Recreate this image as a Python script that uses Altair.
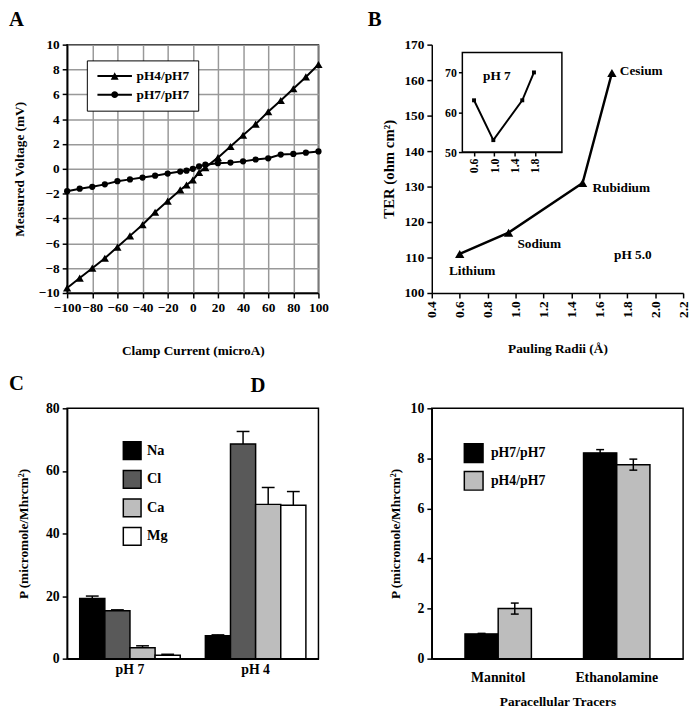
import math
import altair as alt
import pandas as pd

FONT = "Liberation Serif"
W, H = 255, 252
H2 = 254

# ---------------- Panel A data ----------------
a_current = [-100, -90, -80, -70, -60, -50, -40, -30, -20, -10, -5, 0, 5, 10,
             20, 30, 40, 50, 60, 70, 80, 90, 100]
a_ph4 = [-9.6, -8.8, -8.0, -7.2, -6.3, -5.4, -4.5, -3.5, -2.6, -1.7, -1.3, -0.9,
         -0.3, 0.1, 0.9, 1.8, 2.7, 3.6, 4.6, 5.5, 6.45, 7.4, 8.4]
a_ph7 = [-1.8, -1.6, -1.45, -1.25, -1.0, -0.85, -0.7, -0.55, -0.38, -0.22, -0.15,
         0.0, 0.2, 0.33, 0.45, 0.5, 0.6, 0.75, 0.85, 1.15, 1.2, 1.3, 1.4]
a_series = ["pH4/pH7", "pH7/pH7"]

# ---------------- Panel B data ----------------
b_ions = ["Lithium", "Sodium", "Rubidium", "Cesium"]
b_radius = [0.60, 0.95, 1.48, 1.69]
b_ter = [111, 117, 131, 162]
b_inset_radius = [0.60, 0.98, 1.55, 1.78]
b_inset_ter = [63, 53, 63, 70]
b_inset_xdom = [0.37, 2.33]
b_inset_ydom = [50, 75]

# ---------------- Panel C data ----------------
c_groups = ["pH 7", "pH 4"]
c_ions = ["Na", "Cl", "Ca", "Mg"]
c_ph7 = [19.2, 15.3, 3.5, 1.1]
c_ph7_err = [0.8, 0.3, 0.6, 0.3]
c_ph4 = [7.3, 68.6, 49.3, 49.0]
c_ph4_err = [0.3, 4.0, 5.4, 4.4]

# ---------------- Panel D data ----------------
d_tracers = ["Mannitol", "Ethanolamine"]
d_conditions = ["pH7/pH7", "pH4/pH7"]
d_ph7 = [0.99, 8.22]
d_ph7_err = [0.02, 0.13]
d_ph4 = [2.0, 7.75]
d_ph4_err = [0.22, 0.22]

LX = -59  # horizontal offset of the left panel letters
LY = -36  # vertical offset of the panel letters


def letter(ch, dx, dy):
    return alt.Chart(pd.DataFrame({"t": [ch]})).mark_text(
        font=FONT, fontWeight="bold", fontSize=21, align="left", baseline="top", color="black"
    ).encode(text="t:N", x=alt.value(dx), y=alt.value(dy))


# ================= Panel A =================
dfA = pd.DataFrame({
    "current": a_current * 2,
    "voltage": a_ph4 + a_ph7,
    "series": [a_series[0]] * len(a_current) + [a_series[1]] * len(a_current),
})
xA = alt.X("current:Q", scale=alt.Scale(domain=[-100, 100], nice=False),
           axis=alt.Axis(values=list(range(-100, 101, 20)), grid=True, gridColor="#999999",
                         gridWidth=1.5, title="Clamp Current (microA)", titlePadding=30,
                         labelFlush=False, labelOverlap=False, labelFontSize=13.5))
yA = alt.Y("voltage:Q", scale=alt.Scale(domain=[-10, 10], nice=False),
           axis=alt.Axis(values=list(range(-10, 11, 2)), grid=True, gridColor="#999999",
                         gridWidth=1.5, title="Measured Voltage (mV)", titlePadding=12,
                         labelOverlap=False, labelFlush=False, labelFontSize=13.5))
lineA = alt.Chart(dfA).mark_line(color="black", strokeWidth=2).encode(
    x=xA, y=yA, detail="series:N", order="current:Q")
pointsA = alt.Chart(dfA).mark_point(filled=True, color="black", opacity=1).encode(
    x=xA, y=yA,
    shape=alt.Shape("series:N", scale=alt.Scale(domain=a_series, range=["triangle-up", "circle"]), legend=None),
    size=alt.Size("series:N", scale=alt.Scale(domain=a_series, range=[70, 40]), legend=None),
)
# legend symbols: a short filled bar (the line) with a marker in its middle
bar_path = "M-1,-0.2H6V0.2H-1Z"
tri_path = bar_path + "M1.7,0.75L2.5,-0.75L3.3,0.75Z"
circ_pts = []
for k in range(16):
    ang = 2 * math.pi * k / 16
    circ_pts.append(f"{2.5 + 0.7 * math.cos(ang):.3f},{0.7 * math.sin(ang):.3f}")
circ_path = bar_path + "M" + "L".join(circ_pts) + "Z"
legendA = alt.Chart(dfA).transform_filter("false").mark_point(
    filled=True, color="black", opacity=1
).encode(
    shape=alt.Shape("series:N", scale=alt.Scale(domain=a_series, range=[tri_path, circ_path]),
                    legend=alt.Legend(orient="none", legendX=20, legendY=16, title=None, padding=9,
                                      strokeColor="black", fillColor="white", symbolSize=100,
                                      symbolStrokeWidth=0, symbolFillColor="black",
                                      symbolOpacity=1, labelOffset=28,
                                      rowPadding=4, labelFontSize=13.5))
)
panelA = alt.layer(lineA, pointsA, legendA, letter("A", LX, LY)).resolve_scale(
    shape="independent", size="independent").properties(width=W, height=H)

# ================= Panel B =================
dfB = pd.DataFrame({"ion": b_ions, "radius": b_radius, "ter": b_ter})
xB = alt.X("radius:Q", scale=alt.Scale(domain=[0.4, 2.2], nice=False, zero=False),
           axis=alt.Axis(values=[round(0.4 + 0.2 * i, 1) for i in range(10)], format=".1f",
                         labelAngle=270, title="Pauling Radii (Å)", titlePadding=24, grid=False,
                         labelOverlap=False, labelFlush=False, labelFontSize=13.5))
yB = alt.Y("ter:Q", scale=alt.Scale(domain=[100, 170], nice=False, zero=False),
           axis=alt.Axis(values=list(range(100, 171, 10)), title="TER (ohm cm²)", titleFontSize=15,
                         titlePadding=8, grid=False, labelOverlap=False, labelFlush=False,
                         labelFontSize=13.5))
lineB = alt.Chart(dfB).mark_line(color="black", strokeWidth=2.5).encode(x=xB, y=yB, order="radius:Q")
ptsB = alt.Chart(dfB).mark_point(shape="triangle-up", filled=True, size=90, color="black", opacity=1).encode(x=xB, y=yB)
label_offsets = {"Lithium": (-11, 17), "Sodium": (9, 12), "Rubidium": (10, 5), "Cesium": (8, -2)}
labelsB = []
for ion in b_ions:
    dx, dy = label_offsets[ion]
    labelsB.append(
        alt.Chart(dfB).transform_filter(alt.datum.ion == ion).mark_text(
            font=FONT, fontWeight="bold", fontSize=13.5, align="left", baseline="middle",
            color="black", dx=dx, dy=dy).encode(x=xB, y=yB, text="ion:N"))
ph50 = alt.Chart(pd.DataFrame({"radius": [1.84], "ter": [110.8], "t": ["pH 5.0"]})).mark_text(
    font=FONT, fontWeight="bold", fontSize=13.5, align="center", baseline="middle", color="black"
).encode(x=xB, y=yB, text="t:N")
mainB = alt.layer(lineB, ptsB, *labelsB, ph50, letter("B", -65, LY))

xBi = alt.X("r:Q", scale=alt.Scale(domain=b_inset_xdom, range=[31, 132], nice=False, zero=False),
            axis=alt.Axis(orient="bottom", offset=-143, values=[0.6, 1.0, 1.4, 1.8], format=".1f",
                          labelAngle=270, title=None, grid=False, labelFontSize=12, tickSize=4,
                          labelFlush=False, labelOverlap=False, labelPadding=2))
yBi = alt.Y("t:Q", scale=alt.Scale(domain=b_inset_ydom, range=[109, 8], nice=False, zero=False),
            axis=alt.Axis(orient="left", offset=-31, values=[50, 60, 70], title=None, grid=False,
                          labelFontSize=12, tickSize=4, labelFlush=False, labelOverlap=False, labelPadding=2))
frameBi = alt.Chart(pd.DataFrame({"r": [b_inset_xdom[0]], "r2": [b_inset_xdom[1]],
                                  "t": [b_inset_ydom[0]], "t2": [b_inset_ydom[1]]})).mark_rect(
    fill="white", stroke="black", strokeWidth=1.5).encode(x=xBi, x2="r2:Q", y=yBi, y2="t2:Q")
dfBi = pd.DataFrame({"r": b_inset_radius, "t": b_inset_ter})
lineBi = alt.Chart(dfBi).mark_line(color="black", strokeWidth=2).encode(x=xBi, y=yBi, order="r:Q")
ptsBi = alt.Chart(dfBi).mark_point(shape="square", filled=True, size=16, color="black", opacity=1).encode(x=xBi, y=yBi)
textBi = alt.Chart(pd.DataFrame({"r": [1.05], "t": [69], "s": ["pH 7"]})).mark_text(
    font=FONT, fontWeight="bold", fontSize=13.5, align="center", baseline="middle", color="black"
).encode(x=xBi, y=yBi, text="s:N")
insetB = alt.layer(frameBi, lineBi, ptsBi, textBi)
panelB = alt.layer(mainB, insetB).resolve_scale(x="independent", y="independent").properties(
    width=W, height=H, view=alt.ViewBackground(stroke="transparent"))

# ================= Panel C =================
rowsC = []
for g, vals, errs in zip(c_groups, [c_ph7, c_ph4], [c_ph7_err, c_ph4_err]):
    for ion, v, e in zip(c_ions, vals, errs):
        rowsC.append({"group": g, "ion": ion, "value": v, "top": v + e})
dfC = pd.DataFrame(rowsC)
xC = alt.X("group:N", sort=c_groups, scale=alt.Scale(paddingInner=0.2, paddingOuter=0.1),
           axis=alt.Axis(title=None, labelAngle=0, ticks=False, labelPadding=4, labelFontSize=14))
xoffC = alt.XOffset("ion:N", sort=c_ions, scale=alt.Scale(domain=c_ions, paddingInner=0, paddingOuter=0))
yC = alt.Y("value:Q", scale=alt.Scale(domain=[0, 80], nice=False),
           axis=alt.Axis(values=list(range(0, 81, 10)), title="P (micromole/Mhrcm²)", titlePadding=15,
                         grid=False, labelFontSize=14, labelFlush=False, labelOverlap=False))
barsC = alt.Chart(dfC).mark_bar(stroke="black", strokeWidth=1.5).encode(
    x=xC, xOffset=xoffC, y=yC,
    fill=alt.Fill("ion:N", scale=alt.Scale(domain=c_ions, range=["#000000", "#595959", "#bdbdbd", "#ffffff"]),
                  legend=alt.Legend(orient="none", legendX=56, legendY=33, title=None, padding=0,
                                    symbolType="square", symbolSize=324, symbolStrokeColor="black",
                                    symbolStrokeWidth=1.5, symbolOpacity=1, labelOffset=5, rowPadding=5,
                                    labelFontSize=14.5)))
errC = alt.Chart(dfC).mark_rule(color="black", strokeWidth=1.5).encode(
    x=xC, xOffset=xoffC, y="value:Q", y2="top:Q")
capC = alt.Chart(dfC).mark_tick(color="black", thickness=1.5, size=13, opacity=1).encode(
    x=xC, xOffset=xoffC, y="top:Q")
panelC = alt.layer(barsC, errC, capC, letter("C", LX, LY)).properties(width=W, height=H2)

# ================= Panel D =================
rowsD = []
for i, tr in enumerate(d_tracers):
    for cond, vals, errs in zip(d_conditions, [d_ph7, d_ph4], [d_ph7_err, d_ph4_err]):
        rowsD.append({"tracer": tr, "cond": cond, "value": vals[i],
                      "lo": vals[i] - errs[i], "hi": vals[i] + errs[i]})
dfD = pd.DataFrame(rowsD)
xD = alt.X("tracer:N", sort=d_tracers, scale=alt.Scale(paddingInner=0.44, paddingOuter=0.28),
           axis=alt.Axis(title="Paracellular Tracers", titlePadding=11, labelAngle=0, ticks=False,
                         labelPadding=12, labelFontSize=14))
xoffD = alt.XOffset("cond:N", sort=d_conditions, scale=alt.Scale(domain=d_conditions, paddingInner=0, paddingOuter=0))
yD = alt.Y("value:Q", scale=alt.Scale(domain=[0, 10], nice=False),
           axis=alt.Axis(values=list(range(0, 11, 2)), title="P (micromole/Mhrcm²)", titlePadding=8,
                         grid=False, labelFontSize=14, labelFlush=False, labelOverlap=False))
barsD = alt.Chart(dfD).mark_bar(stroke="black", strokeWidth=1.5).encode(
    x=xD, xOffset=xoffD, y=yD,
    fill=alt.Fill("cond:N", scale=alt.Scale(domain=d_conditions, range=["#000000", "#bdbdbd"]),
                  legend=alt.Legend(orient="none", legendX=32, legendY=35, title=None, padding=0,
                                    symbolType="square", symbolSize=361, symbolStrokeColor="black",
                                    symbolStrokeWidth=1.5, symbolOpacity=1, labelOffset=7, rowPadding=3,
                                    labelFontSize=14)))
errD = alt.Chart(dfD).mark_rule(color="black", strokeWidth=1.5).encode(
    x=xD, xOffset=xoffD, y="lo:Q", y2="hi:Q")
capDhi = alt.Chart(dfD).mark_tick(color="black", thickness=1.5, size=8, opacity=1).encode(
    x=xD, xOffset=xoffD, y="hi:Q")
capDlo = alt.Chart(dfD).mark_tick(color="black", thickness=1.5, size=8, opacity=1).encode(
    x=xD, xOffset=xoffD, y="lo:Q")
panelD = alt.layer(barsD, errD, capDhi, capDlo, letter("D", -184, LY + 2)).properties(width=W, height=H2)

chart = alt.concat(
    panelA, panelB, panelC, panelD,
    columns=2, spacing={"row": 117, "column": 115}, bounds="flush",
).resolve_scale(
    fill="independent", shape="independent", size="independent", color="independent",
    xOffset="independent",
).properties(padding={"top": -5, "left": 0, "right": 0, "bottom": 0}).configure(font=FONT).configure_axis(
    labelFont=FONT, titleFont=FONT, labelFontWeight="bold", titleFontWeight="bold",
    labelFontSize=13, titleFontSize=13.5, labelColor="black", titleColor="black",
    domainColor="black", domainWidth=1.5, tickColor="black", tickWidth=1.5, tickSize=5,
    labelPadding=3,
).configure_legend(
    labelFont=FONT, labelFontWeight="bold", labelFontSize=13, labelColor="black",
).configure_view(stroke="black", strokeWidth=1.5)

chart.save("out.html", embed_options={"renderer": "svg", "actions": False})
